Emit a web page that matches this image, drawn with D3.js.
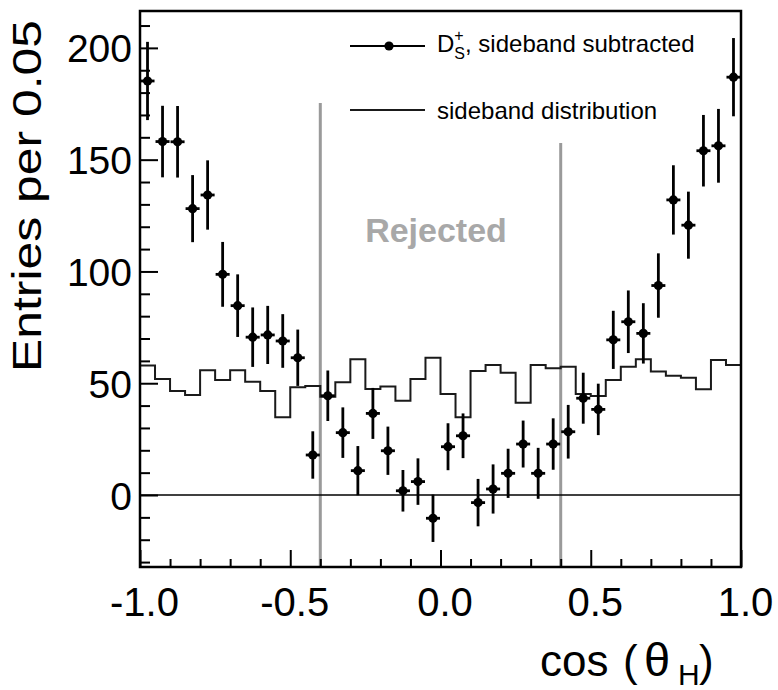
<!DOCTYPE html>
<html>
<head>
<meta charset="utf-8">
<script src="https://cdn.jsdelivr.net/npm/d3@7"></script>
<style>
  html, body { margin: 0; padding: 0; background: #fff; }
  svg { display: block; font-family: "Liberation Sans", Arial, Helvetica, sans-serif; }
</style>
</head>
<body>
<svg id="chart" width="778" height="690"></svg>
<script>
// ---------------- data ----------------
const binCenters = [-0.975,-0.925,-0.875,-0.825,-0.775,-0.725,-0.675,-0.625,-0.575,-0.525,
  -0.475,-0.425,-0.375,-0.325,-0.275,-0.225,-0.175,-0.125,-0.075,-0.025,
  0.025,0.075,0.125,0.175,0.225,0.275,0.325,0.375,0.425,0.475,
  0.525,0.575,0.625,0.675,0.725,0.775,0.825,0.875,0.925,0.975];
const binHalfWidth = 0.025;

const signalValues = [185.2,158.1,158.0,128.1,134.2,98.7,84.7,70.6,71.6,68.9,
  61.4,17.9,44.4,27.9,10.9,36.5,19.8,1.9,6.0,-10.4,
  21.6,26.5,-3.4,2.7,9.7,22.8,9.7,22.8,28.3,43.3,
  38.3,69.4,77.5,72.3,93.7,132.0,120.7,154.0,156.2,186.9];
const signalErrors = [17.5,16,16,15,15.5,14.5,14,13.3,13,12,
  12.6,10.6,11.3,11.3,11,11.4,10.8,9.3,10.4,10.6,
  10.5,10,10.6,11,11,10.5,11.4,11.5,12,11.4,
  11.5,13,14,13.5,14.4,15.5,15,16,16.5,17.5];
const sidebandValues = [57.9,51.9,46.5,44.7,55.8,51.5,55.8,50.7,46.5,34.8,
  48.2,48.8,44.0,50.4,60.7,47.4,48.5,42.2,51.9,61.4,
  45.2,34.8,55.5,58.2,54.7,41.3,58.2,56.7,57.4,45.2,
  44.3,51.5,57.4,60.7,55.2,53.4,52.5,47.3,60.4,58.2];

const yMajorTicks = [0, 50, 100, 150, 200];
const yMinorTicks = [-30,-20,-10,10,20,30,40,60,70,80,90,110,120,130,140,160,170,180,190,210];
const xMajorTicks = [-1.0, -0.5, 0.0, 0.5, 1.0];
const xMajorLabels = ["-1.0", "-0.5", "0.0", "0.5", "1.0"];
const xMinorTicks = [-0.9,-0.8,-0.7,-0.6,-0.4,-0.3,-0.2,-0.1,0.1,0.2,0.3,0.4,0.6,0.7,0.8,0.9];
const rejectCuts = [-0.4, 0.4];
const rejectLineTops = [175.4, 157.5];
const legendLabels = ["sideband subtracted", "sideband distribution"];

// ---------------- layout ----------------
const svg = d3.select("#chart");
const L = 140, T = 11, R = 741, B = 567;

const x = d3.scaleLinear().domain([-1, 1]).range([L, R]);
const y = d3.scaleLinear().domain([-32.2, 216.5]).range([B, T]);

// rejected cut lines
svg.append("g").selectAll("line").data(rejectCuts).join("line")
  .attr("x1", d => x(d)).attr("x2", d => x(d))
  .attr("y1", y(-32.2)).attr("y2", (d, i) => y(rejectLineTops[i]))
  .attr("stroke", "#9a9a9a").attr("stroke-width", 3);

svg.append("text")
  .attr("x", 436).attr("y", 241.5)
  .attr("text-anchor", "middle")
  .attr("font-size", 34).attr("font-weight", "bold")
  .attr("fill", "#a8a8a8")
  .text("Rejected");

// zero line
svg.append("line")
  .attr("x1", L).attr("x2", R).attr("y1", y(0)).attr("y2", y(0))
  .attr("stroke", "#000").attr("stroke-width", 1.6);

// sideband histogram (step)
const stepPts = binCenters.map((c, i) => [c - binHalfWidth, sidebandValues[i]]);
stepPts.push([1.0, sidebandValues[sidebandValues.length - 1]]);
svg.append("path")
  .datum(stepPts)
  .attr("d", d3.line().x(d => x(d[0])).y(d => y(d[1])).curve(d3.curveStepAfter))
  .attr("fill", "none").attr("stroke", "#1a1a1a").attr("stroke-width", 2);

// signal points with error bars
const pts = svg.append("g");
const sig = binCenters.map((c, i) => ({c, v: signalValues[i], e: signalErrors[i]}));
pts.selectAll("line.ev").data(sig).join("line").attr("class", "ev")
  .attr("x1", d => x(d.c)).attr("x2", d => x(d.c))
  .attr("y1", d => y(d.v - d.e)).attr("y2", d => y(d.v + d.e))
  .attr("stroke", "#000").attr("stroke-width", 2.8);
pts.selectAll("line.eh").data(sig).join("line").attr("class", "eh")
  .attr("x1", d => x(d.c - binHalfWidth) + 0.5).attr("x2", d => x(d.c + binHalfWidth) - 0.5)
  .attr("y1", d => y(d.v)).attr("y2", d => y(d.v))
  .attr("stroke", "#000").attr("stroke-width", 2.8);
pts.selectAll("circle").data(sig).join("circle")
  .attr("cx", d => x(d.c)).attr("cy", d => y(d.v)).attr("r", 4.6)
  .attr("fill", "#000");

// axes
const axFont = g => g.selectAll("text").attr("font-family", "Liberation Sans, Arial, sans-serif").attr("fill", "#000");
const noDomain = g => g.select(".domain").remove();

svg.append("g").attr("transform", `translate(${L},0)`)
  .call(d3.axisLeft(y).tickValues(yMinorTicks).tickSize(-10).tickFormat(""))
  .call(noDomain)
  .call(g => g.selectAll("line").attr("stroke", "#000").attr("stroke-width", 2));
svg.append("g").attr("transform", `translate(${L},0)`)
  .call(d3.axisLeft(y).tickValues(yMajorTicks).tickSize(-18).tickPadding(8).tickFormat(d3.format("d")))
  .call(noDomain)
  .call(g => g.selectAll("line").attr("stroke", "#000").attr("stroke-width", 2))
  .call(g => g.selectAll("text").attr("font-size", 39).attr("dy", "0.36em"))
  .call(axFont);

svg.append("g").attr("transform", `translate(0,${B})`)
  .call(d3.axisBottom(x).tickValues(xMinorTicks).tickSize(-8).tickFormat(""))
  .call(noDomain)
  .call(g => g.selectAll("line").attr("stroke", "#000").attr("stroke-width", 2));
svg.append("g").attr("transform", `translate(0,${B})`)
  .call(d3.axisBottom(x).tickValues(xMajorTicks).tickSize(-17).tickPadding(21)
    .tickFormat((d, i) => xMajorLabels[i]))
  .call(noDomain)
  .call(g => g.selectAll("line").attr("stroke", "#000").attr("stroke-width", 2))
  .call(g => g.selectAll("text").attr("font-size", 40).attr("dx", 4))
  .call(axFont);

// frame
svg.append("rect")
  .attr("x", L).attr("y", T).attr("width", R - L).attr("height", B - T)
  .attr("fill", "none").attr("stroke", "#000").attr("stroke-width", 2.5);

// axis titles
svg.append("text")
  .attr("transform", "translate(40.7,372) rotate(-90)")
  .attr("font-size", 40)
  .attr("textLength", 352).attr("lengthAdjust", "spacingAndGlyphs")
  .text("Entries per 0.05");

const xt = svg.append("text").attr("y", 676).attr("font-size", 44);
xt.append("tspan").attr("x", 540).text("cos");
xt.append("tspan").attr("x", 623).text("(");
xt.append("tspan").attr("x", 644).attr("font-size", 47).text("θ");
xt.append("tspan").attr("x", 678).attr("y", 685).attr("font-size", 30).text("H");
xt.append("tspan").attr("x", 699).attr("y", 676).text(")");

// legend
svg.append("line").attr("x1", 350).attr("x2", 425).attr("y1", 46).attr("y2", 46)
  .attr("stroke", "#000").attr("stroke-width", 2.2);
svg.append("circle").attr("cx", 389).attr("cy", 46).attr("r", 4.6).attr("fill", "#000");
svg.append("line").attr("x1", 350).attr("x2", 425).attr("y1", 110).attr("y2", 110)
  .attr("stroke", "#1a1a1a").attr("stroke-width", 1.8);

const lx = 437;
const tD = svg.append("text").attr("x", lx).attr("y", 52).attr("font-size", 24).text("D");
const wD = tD.node().getComputedTextLength();
const tS = svg.append("text").attr("x", lx + wD).attr("y", 58.5).attr("font-size", 16).text("S");
const tP = svg.append("text").attr("x", lx + wD).attr("y", 41).attr("font-size", 16).text("+");
const wS = Math.max(tS.node().getComputedTextLength(), tP.node().getComputedTextLength());
svg.append("text").attr("x", lx + wD + wS).attr("y", 52).attr("font-size", 24)
  .text(", " + legendLabels[0]);
svg.append("text").attr("x", lx).attr("y", 118.5).attr("font-size", 24)
  .text(legendLabels[1]);
</script>
</body>
</html>
